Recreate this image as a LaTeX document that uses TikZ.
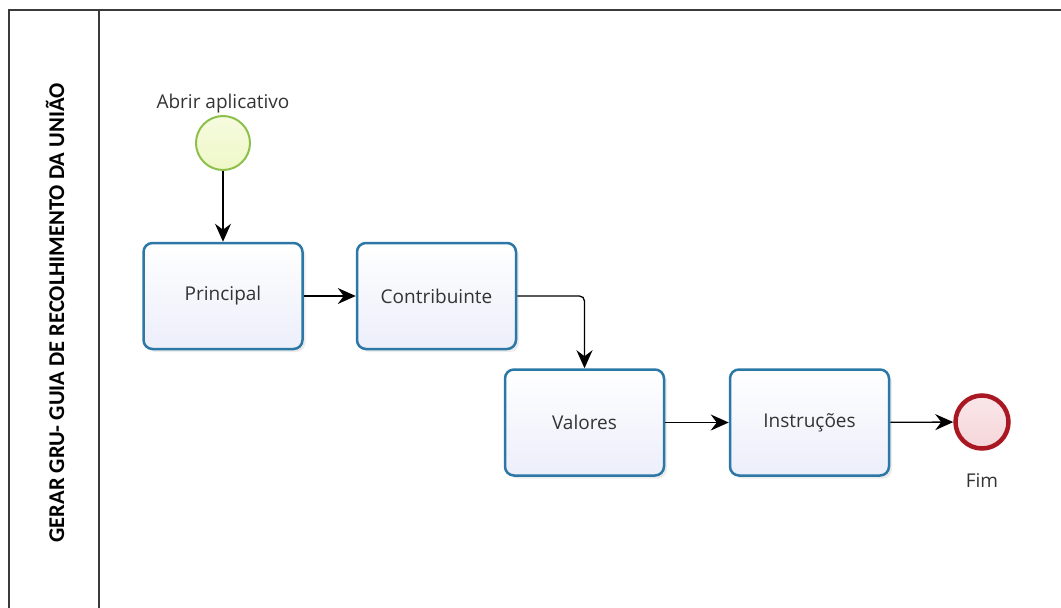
\documentclass[tikz,border=0pt]{standalone}
\usepackage{fontspec}
\setmainfont{Open Sans}
\newfontfamily\lanefont{Carlito}
\usetikzlibrary{arrows.meta,shadows}

\definecolor{taskblue}{HTML}{2B78A6}
\definecolor{taskfill}{HTML}{ECEEFA}
\definecolor{startgreen}{HTML}{8CC04A}
\definecolor{startfill}{HTML}{EFF8C8}
\definecolor{endred}{HTML}{A81722}
\definecolor{endfill}{HTML}{F5D6DA}
\definecolor{poolgray}{HTML}{3A3A3A}

\tikzset{
    pool/.style = {draw=poolgray, line width=1.6pt},
    task/.style = {draw=taskblue, line width=2.5pt, rounded corners=9pt,
        minimum width=159pt, minimum height=106pt,
        top color=white, bottom color=taskfill,
        drop shadow={shadow xshift=3pt, shadow yshift=-3pt, opacity=.15},
        font=\fontsize{19}{22}\selectfont, text=black!80},
    startev/.style = {circle, draw=startgreen, line width=2pt, minimum size=54pt,
        inner sep=0pt, top color=startfill!60!white, bottom color=startfill},
    endev/.style = {circle, draw=endred, line width=4.5pt, minimum size=53pt,
        inner sep=0pt, top color=endfill!60!white, bottom color=endfill},
    evlabel/.style = {font=\fontsize{19}{22}\selectfont, text=black!80},
    flow/.style = {draw=black, line width=1.3pt,
        -{Stealth[length=18pt, width=16pt, inset=6pt]}}
}

\begin{document}
\begin{tikzpicture}[x=1pt, y=-1pt]
    \useasboundingbox (0,0) rectangle (1061,608);

    % pool and lane
    \draw[pool] (9,608) -- (9,10) -- (1061,10);
    \draw[pool] (99,10) -- (99,608);
    \node[rotate=90, font=\lanefont\bfseries\fontsize{22.5}{24}\selectfont] (lane) at (55,313)
        {GERAR GRU- GUIA DE RECOLHIMENTO DA UNIÃO};

    % events and tasks
    \node[startev, label={[evlabel, label distance=-2pt]above:Abrir aplicativo}] (abrir) at (223,143) {};
    \node[task] (principal) at (223,296) {Principal};
    \node[task] (contrib) at (436.5,296) {Contribuinte};
    \node[task] (valores) at (584.5,422.5) {Valores};
    \node[task] (instr) at (809.5,422.5) {Instruções};
    \node[endev, label={[evlabel, label distance=19pt]below:Fim}] (fim) at (982,422) {};

    % sequence flows
    \draw[flow] (abrir) -- (principal);
    \draw[flow] (principal) -- (contrib);
    \draw[flow, rounded corners=5pt] (contrib.east) -| (valores.north);
    \draw[flow] (valores) -- (instr);
    \draw[flow] (instr) -- (fim);
\end{tikzpicture}
\end{document}
